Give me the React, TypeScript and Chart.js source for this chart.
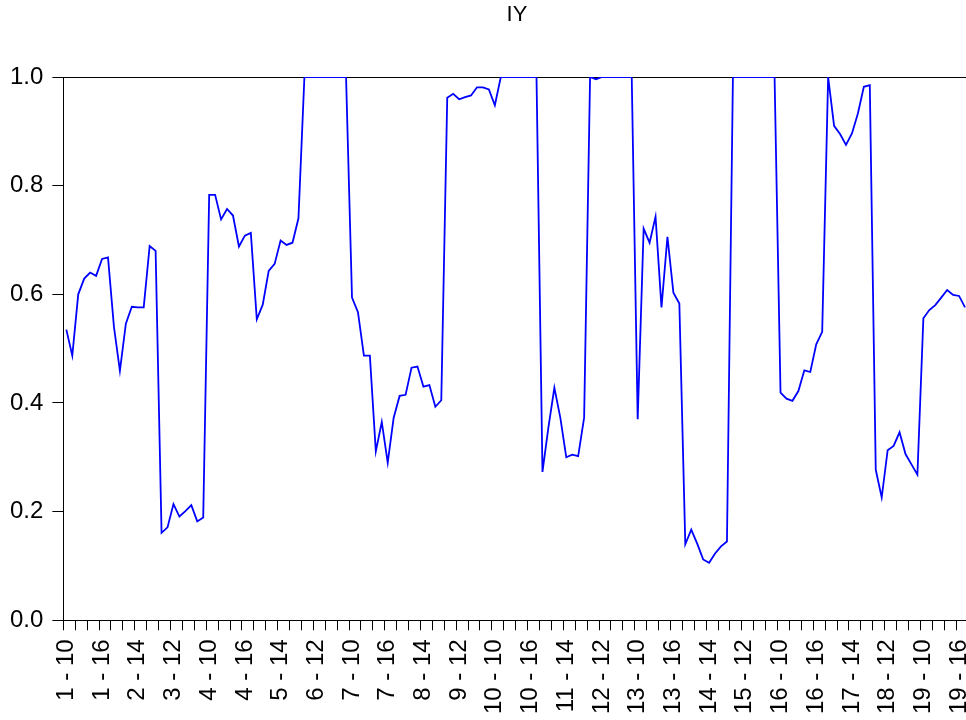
import React, { useEffect, useRef } from 'react';
import { Chart, registerables } from 'chart.js';

Chart.register(...registerables);

// Observation groups (periods) and sub-periods shown on the x axis as "group - sub"
const groups: number[] = [1, 2, 3, 4, 5, 6, 7, 8, 9, 10, 11, 12, 13, 14, 15, 16, 17, 18, 19];
const subPeriods: number[] = [10, 11, 12, 13, 14, 15, 16, 17];

const categories: string[] = [];
for (const g of groups) for (const s of subPeriods) categories.push(`${g} - ${s}`);

// IY series, one row per group
const iyValues: number[] = [
  0.535, 0.487, 0.600, 0.629, 0.640, 0.634, 0.665, 0.668,
  0.540, 0.459, 0.546, 0.577, 0.576, 0.576, 0.689, 0.680,
  0.161, 0.171, 0.214, 0.191, 0.201, 0.212, 0.182, 0.189,
  0.783, 0.783, 0.738, 0.757, 0.745, 0.688, 0.708, 0.713,
  0.554, 0.581, 0.643, 0.656, 0.699, 0.691, 0.695, 0.740,
  1.000, 1.000, 1.000, 1.000, 1.000, 1.000, 1.000, 1.000,
  0.594, 0.567, 0.487, 0.487, 0.311, 0.365, 0.290, 0.373,
  0.413, 0.415, 0.465, 0.467, 0.430, 0.433, 0.393, 0.405,
  0.962, 0.969, 0.959, 0.963, 0.966, 0.981, 0.981, 0.977,
  0.948, 1.000, 1.000, 1.000, 1.000, 1.000, 1.000, 1.000,
  0.273, 0.355, 0.428, 0.373, 0.300, 0.305, 0.302, 0.373,
  1.000, 0.996, 1.000, 1.000, 1.000, 1.000, 1.000, 1.000,
  0.370, 0.721, 0.695, 0.743, 0.576, 0.706, 0.603, 0.583,
  0.140, 0.167, 0.141, 0.112, 0.106, 0.123, 0.136, 0.145,
  1.000, 1.000, 1.000, 1.000, 1.000, 1.000, 1.000, 1.000,
  0.419, 0.408, 0.404, 0.422, 0.460, 0.457, 0.508, 0.531,
  1.000, 0.910, 0.895, 0.875, 0.896, 0.933, 0.982, 0.985,
  0.277, 0.226, 0.313, 0.321, 0.346, 0.306, 0.287, 0.268,
  0.556, 0.571, 0.580, 0.594, 0.608, 0.599, 0.597, 0.576,
];

const yTicks: number[] = [0, 0.2, 0.4, 0.6, 0.8, 1.0];

const FONT = '"Liberation Sans", Arial, Helvetica, sans-serif';

export default function App() {
  const ref = useRef<HTMLCanvasElement>(null);

  useEffect(() => {
    document.body.style.margin = '0';
    document.body.style.overflow = 'hidden';
    const chart = new Chart(ref.current!, {
      type: 'line',
      data: {
        labels: categories,
        datasets: [
          {
            data: iyValues,
            borderColor: '#0000ff',
            borderWidth: 1.8,
            pointRadius: 0,
            tension: 0,
            fill: false,
          },
        ],
      },
      options: {
        animation: false,
        responsive: false,
        maintainAspectRatio: false,
        layout: { padding: { left: 10, top: 77, right: 0, bottom: 6 } },
        plugins: {
          legend: { display: false },
          title: { display: false },
          tooltip: { enabled: false },
        },
        scales: {
          x: {
            type: 'category',
            offset: true,
            afterFit: (scale: any) => {
              scale.paddingRight = 0;
              scale.paddingLeft = 0;
              scale.height -= 9;
            },
            grid: {
              offset: true,
              drawOnChartArea: false,
              drawTicks: true,
              tickLength: 10,
              lineWidth: 1,
              color: '#000',
              tickColor: (c: any) => (c.index % 2 === 0 ? '#000' : 'rgba(0,0,0,0)'),
            },
            border: { display: true, color: '#000', width: 1 },
            ticks: {
              autoSkip: false,
              maxRotation: 90,
              minRotation: 90,
              padding: 9,
              color: '#000',
              font: { family: FONT, size: 24 },
              callback: (_v: any, i: number) => (i % 6 === 0 ? categories[i] : ''),
            },
          },
          y: {
            min: 0,
            max: 1,
            afterBuildTicks: (scale: any) => {
              scale.ticks = yTicks.map((v) => ({ value: v }));
            },
            afterFit: (scale: any) => {
              scale.width -= 9;
            },
            grid: {
              drawTicks: true,
              tickLength: 11,
              lineWidth: 1,
              color: (c: any) => (c.tick && Math.abs(c.tick.value - 1) < 1e-9 ? '#000' : 'rgba(0,0,0,0)'),
              tickColor: '#000',
            },
            border: { display: true, color: '#000', width: 1 },
            ticks: {
              padding: 9,
              color: '#000',
              font: { family: FONT, size: 24 },
              callback: (v: any) => Number(v).toFixed(1),
            },
          },
        },
      } as any,
    });
    return () => chart.destroy();
  }, []);

  return (
    <div style={{ position: 'relative', width: 968, height: 720, background: '#fff' }}>
      <canvas ref={ref} width={968} height={720} style={{ display: 'block' }} />
      <div
        style={{
          position: 'absolute',
          left: 417,
          top: 0,
          width: 200,
          textAlign: 'center',
          fontFamily: FONT,
          fontSize: 22,
          lineHeight: '28px',
          color: '#000',
        }}
      >
        IY
      </div>
    </div>
  );
}
